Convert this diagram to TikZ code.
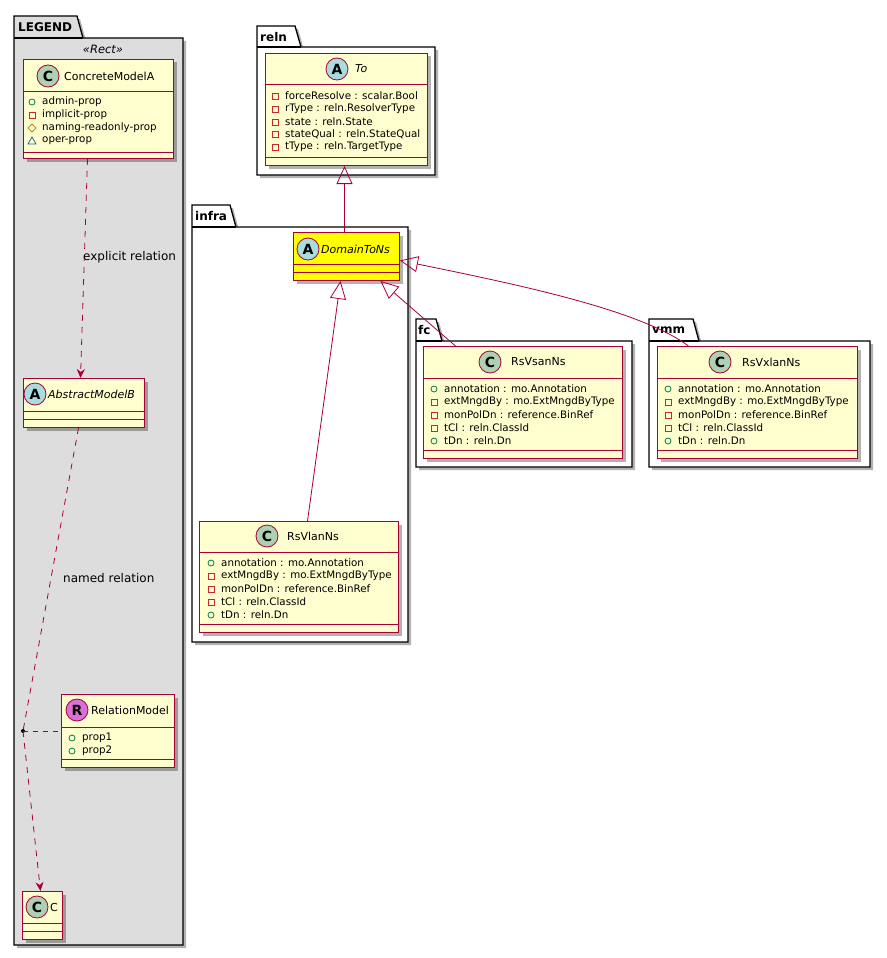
\documentclass[tikz,border=0pt]{standalone}
\usepackage{fontspec}
\setmainfont{DejaVu Sans}
\usetikzlibrary{arrows.meta,shadows,calc}
\definecolor{umlred}{HTML}{A80036}
\definecolor{umlfill}{HTML}{FEFECE}
\definecolor{circC}{HTML}{ADD1B2}
\definecolor{circA}{HTML}{A9DCDF}
\definecolor{circR}{HTML}{DA70D6}
\definecolor{legendgray}{HTML}{DDDDDD}
\definecolor{pubc}{HTML}{038048}
\definecolor{privc}{HTML}{C82930}
\definecolor{protc}{HTML}{B38D22}
\definecolor{pkgc}{HTML}{1963A0}
\definecolor{hilite}{HTML}{FFFF00}
\newcommand\pubattr[4]{\draw[pubc, line width=0.8pt] (#2,#3) circle[radius=3pt]; \node[attrtext] (#1) at (#2+10,#3) {#4};}
\newcommand\privattr[4]{\draw[privc, line width=0.8pt] (#2-3,#3-3) rectangle (#2+3,#3+3); \node[attrtext] (#1) at (#2+10,#3) {#4};}
\newcommand\protattr[4]{\draw[protc, line width=0.8pt] (#2-4,#3) -- (#2,#3-4) -- (#2+4,#3) -- (#2,#3+4) -- cycle; \node[attrtext] (#1) at (#2+10,#3) {#4};}
\newcommand\pkgattr[4]{\draw[pkgc, line width=0.8pt] (#2-4,#3+3) -- (#2+4,#3+3) -- (#2,#3-4) -- cycle; \node[attrtext] (#1) at (#2+10,#3) {#4};}
\begin{document}
\begin{tikzpicture}[x=1pt,y=-1pt,
  shad/.style={drop shadow={shadow xshift=3pt, shadow yshift=-3pt, opacity=0.3, fill=black}},
  pkg/.style={draw=black, line width=1.3pt, shad},
  pkgline/.style={draw=black, line width=1.3pt},
  pkgname/.style={anchor=west, inner sep=0pt, font=\fontsize{12}{13}\selectfont\bfseries},
  stereo/.style={inner sep=0pt, font=\fontsize{11.5}{12}\selectfont\itshape},
  classbox/.style={draw=umlred, fill=umlfill, line width=1pt, inner sep=0pt, shad},
  sep/.style={draw=umlred, line width=1pt},
  spot/.style={circle, draw=umlred, line width=0.8pt, minimum size=22pt, inner sep=0pt, font=\fontsize{14}{14}\selectfont\bfseries},
  cname/.style={anchor=west, inner sep=0pt, font=\fontsize{11}{12}\selectfont},
  aname/.style={cname, font=\fontsize{11}{12}\selectfont\itshape},
  attrtext/.style={anchor=west, inner sep=0pt, font=\fontsize{10.3}{11}\selectfont},
  lbl/.style={anchor=west, inner sep=0pt, font=\fontsize{12}{13}\selectfont},
  rel/.style={draw=umlred, line width=0.8pt},
  dep/.style={rel, dash pattern=on 6pt off 6pt, -{Stealth[length=9pt,width=8pt,inset=3pt]}, color=umlred},
  dashline/.style={rel, dash pattern=on 6pt off 6pt},
  assoc/.style={draw=black!80, line width=0.8pt, dash pattern=on 5pt off 5pt},
  inh/.style={rel, -{Triangle[open, length=18pt, width=16pt]}},
  dotnode/.style={circle, fill=black, inner sep=0pt, minimum size=4pt}
]
\useasboundingbox (0,0) rectangle (886,958);

% ---------- packages ----------
\draw[pkg, fill=legendgray] (14,38) -- (14,16) -- (77,16) -- (83,38) -- (183,38) -- (183,945) -- (14,945) -- cycle;
\draw[pkgline] (14,38) -- (83,38);
\node[pkgname] (legendname) at (18,27) {LEGEND};
\node[stereo] (rectst) at (103,49) {«Rect»};

\draw[pkg, fill=white] (257,47) -- (257,26) -- (295,26) -- (301,47) -- (435,47) -- (435,175) -- (257,175) -- cycle;
\draw[pkgline] (257,47) -- (301,47);
\node[pkgname] (relnname) at (260,37) {reln};

\draw[pkg, fill=white] (192,227) -- (192,205) -- (230,205) -- (236,227) -- (408,227) -- (408,642) -- (192,642) -- cycle;
\draw[pkgline] (192,227) -- (236,227);
\node[pkgname] (infraname) at (195,216) {infra};

\draw[pkg, fill=white] (416,341) -- (416,319) -- (436,319) -- (442,341) -- (632,341) -- (632,467) -- (416,467) -- cycle;
\draw[pkgline] (416,341) -- (442,341);
\node[pkgname] (fcname) at (418,330) {fc};

\draw[pkg, fill=white] (649,341) -- (649,319) -- (693,319) -- (699,341) -- (870,341) -- (870,467) -- (649,467) -- cycle;
\draw[pkgline] (649,341) -- (699,341);
\node[pkgname] (vmmname) at (652,330) {vmm};

% ---------- legend classes ----------
\node[classbox, anchor=north west, minimum width=150, minimum height=99] (ca) at (23,59) {};
\draw[sep] (23,91) -- (173,91); \draw[sep] (23,152) -- (173,152);
\node[spot, fill=circC] (caspot) at (48,76) {C};
\node[cname] (caname) at (64,76) {ConcreteModelA};
\pubattr{ca1}{32}{102}{admin-prop}
\privattr{ca2}{32}{115}{implicit-prop}
\protattr{ca3}{32}{128}{naming-readonly-prop}
\pkgattr{ca4}{32}{141}{oper-prop}

\node[classbox, anchor=north west, minimum width=121, minimum height=49] (amb) at (23,378) {};
\draw[sep] (23,411) -- (144,411); \draw[sep] (23,419) -- (144,419);
\node[spot, fill=circA] (ambspot) at (35,394) {A};
\node[aname] (ambname) at (48,394) {AbstractModelB};

\node[classbox, anchor=north west, minimum width=113, minimum height=73] (rm) at (61,694) {};
\draw[sep] (61,727) -- (174,727); \draw[sep] (61,759) -- (174,759);
\node[spot, fill=circR] (rmspot) at (77,710) {R};
\node[cname] (rmname) at (91,710) {RelationModel};
\pubattr{rm1}{72}{738}{prop1}
\pubattr{rm2}{72}{751}{prop2}

\node[classbox, anchor=north west, minimum width=40, minimum height=48] (cc) at (22,891) {};
\draw[sep] (22,923) -- (62,923); \draw[sep] (22,931) -- (62,931);
\node[spot, fill=circC] (ccspot) at (37,907) {C};
\node[cname] (ccname) at (50,907) {C};

\node[dotnode] (jn) at (23,731) {};

% ---------- reln.To ----------
\node[classbox, anchor=north west, minimum width=162, minimum height=112] (to) at (265,53) {};
\draw[sep] (265,84) -- (427,84); \draw[sep] (265,157) -- (427,157);
\node[spot, fill=circA] (tospot) at (337,69) {A};
\node[aname] (toname) at (355,69) {To};
\privattr{to1}{275}{96}{forceResolve : scalar.Bool}
\privattr{to2}{275}{109}{rType : reln.ResolverType}
\privattr{to3}{275}{122}{state : reln.State}
\privattr{to4}{275}{134}{stateQual : reln.StateQual}
\privattr{to5}{275}{147}{tType : reln.TargetType}

% ---------- infra ----------
\node[classbox, fill=hilite, anchor=north west, minimum width=106, minimum height=48] (dom) at (293,232) {};
\draw[sep] (293,264) -- (399,264); \draw[sep] (293,272) -- (399,272);
\node[spot, fill=circA] (domspot) at (308,249) {A};
\node[aname] (domname) at (321,249) {DomainToNs};

\node[classbox, anchor=north west, minimum width=199, minimum height=111] (rsvlan) at (199,521) {};
\draw[sep] (199,552) -- (398,552); \draw[sep] (199,624) -- (398,624);
\node[spot, fill=circC] (rsvlanspot) at (267,536) {C};
\node[cname] (rsvlanname) at (287,536) {RsVlanNs};
\pubattr{vl1}{211}{563}{annotation : mo.Annotation}
\privattr{vl2}{211}{576}{extMngdBy : mo.ExtMngdByType}
\privattr{vl3}{211}{589}{monPolDn : reference.BinRef}
\privattr{vl4}{211}{602}{tCl : reln.ClassId}
\pubattr{vl5}{211}{615}{tDn : reln.Dn}

% ---------- fc ----------
\node[classbox, anchor=north west, minimum width=199, minimum height=112] (rsvsan) at (423,346) {};
\draw[sep] (423,378) -- (622,378); \draw[sep] (423,450) -- (622,450);
\node[spot, fill=circC] (rsvsanspot) at (490,362) {C};
\node[cname] (rsvsanname) at (511,362) {RsVsanNs};
\pubattr{vs1}{434}{389}{annotation : mo.Annotation}
\privattr{vs2}{434}{402}{extMngdBy : mo.ExtMngdByType}
\privattr{vs3}{434}{415}{monPolDn : reference.BinRef}
\privattr{vs4}{434}{428}{tCl : reln.ClassId}
\pubattr{vs5}{434}{441}{tDn : reln.Dn}

% ---------- vmm ----------
\node[classbox, anchor=north west, minimum width=200, minimum height=112] (rsvx) at (657,346) {};
\draw[sep] (657,378) -- (857,378); \draw[sep] (657,450) -- (857,450);
\node[spot, fill=circC] (rsvxspot) at (720,362) {C};
\node[cname] (rsvxname) at (742,362) {RsVxlanNs};
\pubattr{vx1}{668}{389}{annotation : mo.Annotation}
\privattr{vx2}{668}{402}{extMngdBy : mo.ExtMngdByType}
\privattr{vx3}{668}{415}{monPolDn : reference.BinRef}
\privattr{vx4}{668}{428}{tCl : reln.ClassId}
\pubattr{vx5}{668}{441}{tDn : reln.Dn}

% ---------- connectors ----------
\draw[dep] ([xshift=-11pt]ca.south) -- ([xshift=-3.5pt]amb.north);
\node[lbl] (explbl) at (83,257) {explicit relation};
\draw[dashline] ([xshift=-5.5pt]amb.south) -- (jn.center);
\draw[dep] (jn.center) -- ([xshift=-2pt]cc.north);
\draw[assoc] (jn.center) -- (rm.west);
\node[lbl] (namedlbl) at (63,578) {named relation};

\draw[inh] ([xshift=-2pt]dom.north) -- ([xshift=-2pt]to.south);
\draw[inh] ([xshift=8.5pt]rsvlan.north) -- ([xshift=-6pt]dom.south);
\draw[inh] ([xshift=-67.5pt]rsvsan.north) -- ([xshift=34pt]dom.south);
\draw[inh] ([xshift=-69pt]rsvx.north) .. controls (640,310) and (520,285) .. ([yshift=-4pt]dom.east);
\end{tikzpicture}
\end{document}
